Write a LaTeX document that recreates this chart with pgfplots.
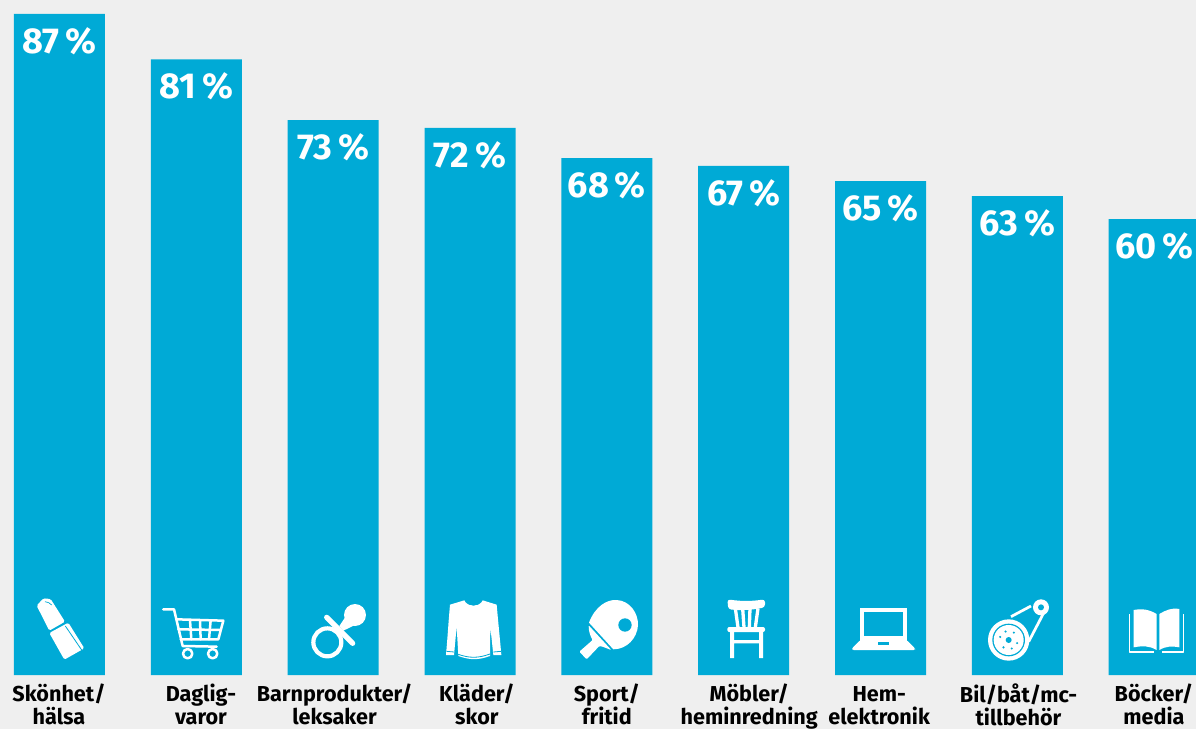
\documentclass[border=0pt]{standalone}
\usepackage{pgfplots}
\pgfplotsset{compat=1.18}
\usepackage{fontspec}
\setmainfont{Fira Sans}
\definecolor{barblue}{HTML}{00AAD6}
\definecolor{paper}{HTML}{EFEFEF}
\newcommand{\iconframe}[2]{\begin{scope}[shift={(#1pt,139pt)},x=0.33333pt,y=-0.33333pt,#2]}
% first line of a category name, with a fixed height so that all baselines agree
\newcommand{\fl}[1]{\vrule height 18pt width 0pt\relax #1}
\begin{document}
\begin{tikzpicture}
\useasboundingbox (0pt,0pt) rectangle (1196pt,729pt);
\fill[paper] (0pt,0pt) rectangle (1196pt,729pt);
\begin{axis}[
  at={(0pt,54pt)}, anchor=south west,
  scale only axis, width=1196pt, height=675pt,
  xmin=-0.4348, xmax=8.305, ymin=0, ymax=88.82,
  ybar, bar width=0.665, clip=true,
  axis line style={draw=none},
  ymajorticks=false,
  tick style={draw=none},
  xtick={-0.004,1.034,2.01,3.05,4.0,5.04,5.99,7.008,7.998},
  xticklabels={{\fl{Skönhet/}\\hälsa},{\fl{Daglig-}\\varor},{\fl{Barnprodukter/}\\leksaker},{\fl{Kläder/}\\skor},{\fl{Sport/}\\fritid},{\fl{Möbler/}\\heminredning},{\fl{Hem-}\\elektronik},{\fl{Bil/båt/mc-}\\tillbehör},{\fl{Böcker/}\\media}},
  x tick label style={font=\fontsize{21.6}{22.5}\selectfont\bfseries, align=center, text=black, inner sep=0pt, yshift=-4.5pt},
  nodes near coords={\pgfmathprintnumber{\pgfplotspointmeta}\,\%},
  /pgf/number format/assume math mode=true,
  every node near coord/.append style={anchor=center, yshift=-27pt, text=white, font=\fontsize{36}{38}\selectfont\bfseries},
]
\addplot[fill=barblue, draw=none] coordinates {(0,87) (1,81) (2,73) (3,72) (4,68) (5,67) (6,65) (7,63) (8,60)};
\end{axis}

% lipstick
\iconframe{0}{}
\fill[white,rounded corners=1.5pt] (110,47) -- (130,25) -- (152,27) -- (195,95) -- (148,122) -- cycle;
\fill[white,rounded corners=1.5pt] (148,129) -- (205,98) -- (253,175) -- (193,209) -- cycle;
\draw[barblue,line width=0.8pt] (196,108) -- (245,180);
\draw[barblue,line width=0.7pt] (135,35) to[bend left=20] (155,45);
\end{scope}
% shopping cart
\iconframe{0}{white,line width=2.5pt,line cap=round,line join=round}
\draw (490,58) -- (522,58) -- (548,168) -- (650,170);
\draw (530,88) -- (670,92) -- (655,148) -- (542,148);
\draw (535,118) -- (662,120);
\draw (570,90) -- (574,148) (600,90) -- (602,148) (632,91) -- (627,148);
\draw (563,191) circle (14);
\draw (638,191) circle (14);
\end{scope}
% pacifier
\iconframe{0}{}
\draw[white,line width=4.2pt] (982,157) circle (42);
\draw[white,line width=5.2pt,line cap=round] (980,82) -- (1058,160);
\fill[white] (1065,75) circle (33);
\fill[white] (1040,75) -- (1065,105) -- (1030,122) -- (1018,108) -- cycle;
\end{scope}
% sweater
\iconframe{400}{}
\fill[white] (193,31) to[out=-70,in=-110] (248,31) -- (290,44) to[out=-85,in=95] (304,195) -- (280,195) -- (271,110) -- (270,198) to[out=-160,in=-20] (175,198) -- (170,110) -- (162,195) -- (138,195) to[out=85,in=-95] (150,44) -- cycle;
\draw[barblue,line width=0.8pt] (198,33) to[out=-70,in=-110] (243,33);
\draw[barblue,line width=0.8pt] (140,184) -- (162,186) (280,186) -- (303,184);
\draw[barblue,line width=0.8pt] (172,192) to[out=-20,in=-160] (270,192);
\end{scope}
% table tennis bat: blade, then neck and handle below the rubber
\iconframe{400}{}
\fill[white] (567,98) .. controls (585,50) and (620,28) .. (650,30) .. controls (690,32) and (715,70) .. (714,105) .. controls (712,145) and (680,178) .. (640,178) -- cycle;
\fill[white,rounded corners=1pt] (566,106) .. controls (566,125) and (572,140) .. (578,150) -- (538,185) -- (560,208) -- (598,168) .. controls (610,170) and (622,176) .. (634,180) -- cycle;
\fill[barblue] (675,105) circle (20);
\end{scope}
% chair
\iconframe{400}{}
\fill[white,rounded corners=3pt] (982,28) to[bend right=8] (1095,28) -- (1095,52) to[bend left=8] (985,58) -- cycle;
\draw[white,line width=3.3pt] (1006,55) -- (1014,112) (1028,55) -- (1032,112) (1050,55) -- (1048,112) (1074,55) -- (1066,112);
\fill[white,rounded corners=2pt] (982,111) -- (1095,111) -- (1095,126) -- (982,126) -- cycle;
\fill[white] (990,124) rectangle (1002,204) (1077,124) rectangle (1089,204) (1000,150) rectangle (1080,160);
\end{scope}
% laptop
\iconframe{796}{}
\fill[white] (193,55) rectangle (332,152);
\fill[barblue] (205,66) rectangle (320,138);
\fill[white,rounded corners=1.5pt] (193,150) -- (332,150) -- (357,175) -- (357,180) -- (168,180) -- (168,175) -- cycle;
\fill[barblue] (247,157) rectangle (280,165);
\end{scope}
% wheel and belt
\iconframe{796}{}
\fill[white] (638,150) circle (62);
\fill[barblue] (638,150) circle (49);
\fill[white] (638,150) circle (45);
\fill[barblue] (638,150) circle (9);
\foreach \a in {20,70,125,200,250,305} {\fill[barblue] (638,150) ++(\a:27) circle (3.5);}
\draw[white,line width=2.7pt] (698,155) -- (745,65) (645,80) -- (705,48);
\fill[white] (735,52) circle (24);
\fill[barblue] (735,52) circle (9);
\end{scope}
% open book
\iconframe{796}{}
\fill[white] (1013,60) to[out=10,in=150] (1082,72) -- (1082,180) to[out=150,in=10] (1013,172) -- cycle;
\fill[white] (1090,72) to[out=30,in=170] (1150,57) -- (1150,172) to[out=170,in=30] (1090,180) -- cycle;
\draw[white,line width=1.6pt,line join=round] (1001,72) -- (1001,186) -- (1075,186) (1162,72) -- (1162,186) -- (1097,186);
\end{scope}
\end{tikzpicture}
\end{document}
